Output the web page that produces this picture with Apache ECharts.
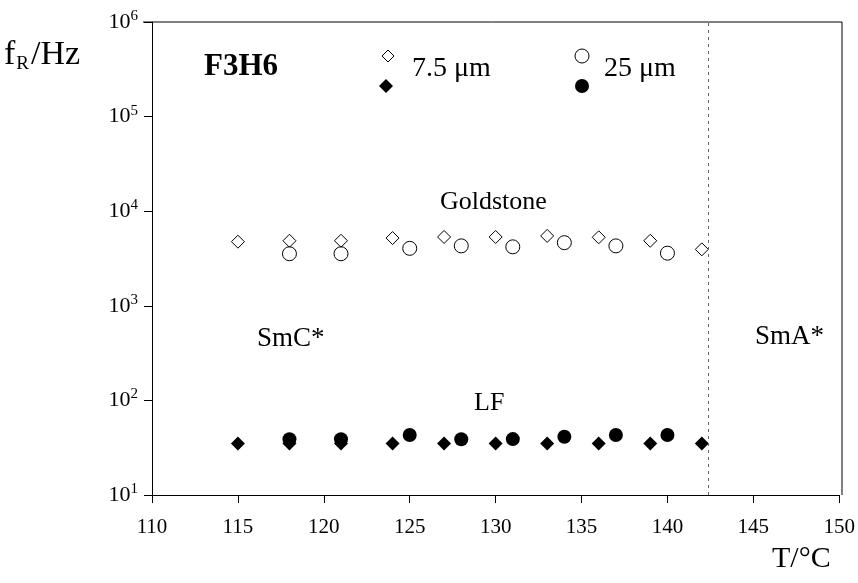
<!DOCTYPE html>
<html>
<head>
<meta charset="utf-8">
<script src="https://cdn.jsdelivr.net/npm/echarts@6/dist/echarts.min.js"></script>
<style>
  html, body { margin: 0; padding: 0; background: #fff; }
  #main { width: 858px; height: 583px; }
</style>
</head>
<body>
<div id="main"></div>
<script>
// temperatures (°C) and relaxation frequencies (Hz)
const gsThinT = [115, 118, 121, 124, 127, 130, 133, 136, 139, 142];
const gsThinF = [4760, 4870, 4870, 5200, 5340, 5340, 5480, 5300, 4870, 3950];
const gsThickT = [118, 121, 125, 128, 131, 134, 137, 140];
const gsThickF = [3550, 3550, 4050, 4300, 4200, 4650, 4300, 3600];

const lfThinT = [115, 118, 121, 124, 127, 130, 133, 136, 139, 142];
const lfThinF = [35, 35, 35, 35, 35, 35, 35, 35, 35, 35];
const lfThickT = [118, 121, 125, 128, 131, 134, 137, 140];
const lfThickF = [38.8, 38.8, 43, 38.8, 39, 41.3, 43, 43];

const transitionT = 142.4; // SmC* -> SmA*

const FONT = '"Liberation Serif", "DejaVu Serif", serif';
const zip = (a, b) => a.map((x, i) => [x, b[i]]);
const diamond = 'path://M0,-1L1,0L0,1L-1,0Z';

const chart = echarts.init(document.getElementById('main'));

const option = {
  animation: false,
  textStyle: { fontFamily: FONT, color: '#000' },
  grid: { left: 152, right: 16, top: 22, bottom: 88, show: false },
  xAxis: {
    type: 'value',
    min: 110, max: 150, interval: 5,
    axisLine: { onZero: false, lineStyle: { color: '#000', width: 1 } },
    axisTick: { show: true, inside: false, length: 8, lineStyle: { color: '#000' } },
    axisLabel: { fontFamily: FONT, fontSize: 21, color: '#000', margin: 22 },
    splitLine: { show: false }
  },
  yAxis: {
    type: 'log',
    min: 10, max: 1e6, logBase: 10,
    axisLine: { show: true, lineStyle: { color: '#000', width: 1 } },
    axisTick: { show: true, inside: false, length: 8, lineStyle: { color: '#000' } },
    minorTick: { show: false },
    splitLine: { show: false },
    axisLabel: {
      margin: 14,
      formatter: v => '{b|10}{s|' + Math.round(Math.log10(v)) + '}',
      rich: {
        b: { fontFamily: FONT, fontSize: 22, color: '#000' },
        s: { fontFamily: FONT, fontSize: 15, color: '#000', padding: [0, 0, 12, 0] }
      }
    }
  },
  series: [
    {
      name: 'gs 7.5', type: 'scatter', data: zip(gsThinT, gsThinF),
      symbol: diamond, symbolSize: 13,
      itemStyle: { color: '#fff', borderColor: '#000', borderWidth: 1, opacity: 1 },
      markLine: {
        silent: true, symbol: 'none', label: { show: false },
        lineStyle: { color: '#666', type: [3, 4], width: 1 },
        data: [{ xAxis: transitionT }]
      }
    },
    {
      name: 'gs 25', type: 'scatter', data: zip(gsThickT, gsThickF),
      symbol: 'circle', symbolSize: 14,
      itemStyle: { color: 'rgba(255,255,255,0)', borderColor: '#000', borderWidth: 1, opacity: 1 }
    },
    {
      name: 'lf 7.5', type: 'scatter', data: zip(lfThinT, lfThinF),
      symbol: diamond, symbolSize: 14,
      itemStyle: { color: '#000', opacity: 1 }
    },
    {
      name: 'lf 25', type: 'scatter', data: zip(lfThickT, lfThickF),
      symbol: 'circle', symbolSize: 14,
      itemStyle: { color: '#000', opacity: 1 }
    }
  ],
  graphic: [
    // plot frame, top and right
    { type: 'line', shape: { x1: 143, y1: 22, x2: 842, y2: 22 }, style: { stroke: '#000', lineWidth: 1 } },
    { type: 'line', shape: { x1: 842, y1: 22, x2: 842, y2: 495 }, style: { stroke: '#000', lineWidth: 1 } },
    // axis titles
    {
      type: 'text', left: 4, top: 38,
      style: {
        text: '{a|f}{sub|R}{a|/Hz}',
        rich: {
          a: { fontFamily: FONT, fontSize: 34, fill: '#000' },
          sub: { fontFamily: FONT, fontSize: 19, fill: '#000', padding: [18, 2, 0, 1] }
        }
      }
    },
    { type: 'text', left: 772, top: 544, style: { text: 'T/°C', font: '30px ' + FONT, fill: '#000' } },
    { type: 'text', left: 204, top: 51, style: { text: 'F3H6', font: 'bold 31px ' + FONT, fill: '#000' } },
    // legend
    { type: 'polygon', shape: { points: [[388, 50], [394, 56], [388, 62], [382, 56]] }, style: { fill: '#fff', stroke: '#000' } },
    { type: 'polygon', shape: { points: [[386, 79], [393, 86], [386, 93], [379, 86]] }, style: { fill: '#000' } },
    { type: 'text', left: 412, top: 55, style: { text: '7.5 μm', font: '28px ' + FONT, fill: '#000' } },
    { type: 'circle', shape: { cx: 582, cy: 56, r: 7 }, style: { fill: '#fff', stroke: '#000' } },
    { type: 'circle', shape: { cx: 582, cy: 86, r: 7 }, style: { fill: '#000' } },
    { type: 'text', left: 604, top: 55, style: { text: '25 μm', font: '28px ' + FONT, fill: '#000' } },
    // annotations
    { type: 'text', left: 440, top: 189, style: { text: 'Goldstone', font: '26px ' + FONT, fill: '#000' } },
    { type: 'text', left: 257, top: 325, style: { text: 'SmC*', font: '27px ' + FONT, fill: '#000' } },
    { type: 'text', left: 755, top: 323, style: { text: 'SmA*', font: '27px ' + FONT, fill: '#000' } },
    { type: 'text', left: 474, top: 390, style: { text: 'LF', font: '26px ' + FONT, fill: '#000' } }
  ]
};

chart.setOption(option);
</script>
</body>
</html>
